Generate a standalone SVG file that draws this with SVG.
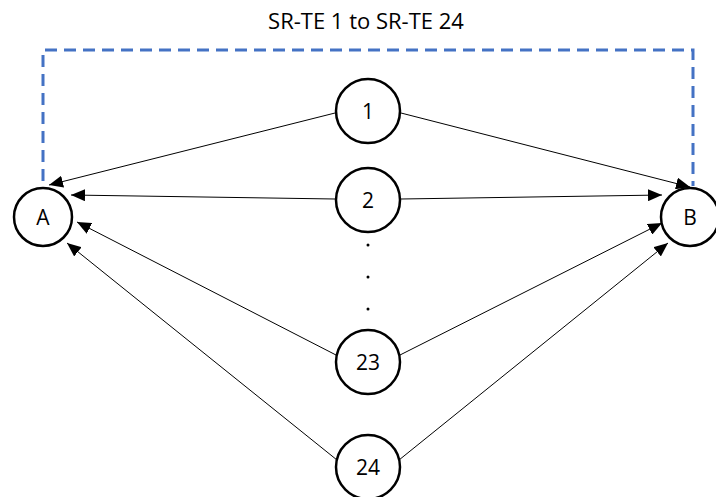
<svg xmlns="http://www.w3.org/2000/svg" width="716" height="497" viewBox="0 0 716 497">
<style>
.node{fill:#fff;stroke:#000;stroke-width:2.5}
.lbl{font-family:"Open Sans","Liberation Sans",sans-serif;font-size:21px;fill:#000;text-anchor:middle;dominant-baseline:central}
.edge{stroke:#000;stroke-width:1;fill:none;marker-end:url(#ah)}
.dash{stroke:#4472C4;stroke-width:3;fill:none;stroke-dasharray:12 7}
.dot{fill:#000}
</style>
<defs>
<marker id="ah" markerUnits="userSpaceOnUse" markerWidth="14" markerHeight="12" viewBox="0 0 14 12" refX="14" refY="6" orient="auto">
<path d="M0,0 L14,6 L0,12 Z" fill="#000"/>
</marker>
</defs>
<rect width="716" height="497" fill="#fff"/>
<text class="lbl" x="366" y="20" style="font-size:22px">SR-TE 1 to SR-TE 24</text>
<g id="connectors">
<path class="dash" d="M43,181 V50 H693 V186"/>
<line class="edge" x1="335" y1="113" x2="49" y2="185"/>
<line class="edge" x1="401" y1="113" x2="690" y2="187"/>
<line class="edge" x1="335" y1="199" x2="71" y2="195"/>
<line class="edge" x1="401" y1="199" x2="662" y2="195"/>
<line class="edge" x1="336" y1="355" x2="77" y2="222"/>
<line class="edge" x1="400" y1="355" x2="662" y2="223"/>
<line class="edge" x1="337" y1="460" x2="67" y2="243"/>
<line class="edge" x1="399" y1="460" x2="668" y2="243"/>
</g>
<g id="A"><circle class="node" cx="43" cy="217" r="29"/><text class="lbl" x="43" y="217">A</text></g>
<g id="B"><circle class="node" cx="690" cy="217" r="29"/><text class="lbl" x="690" y="217">B</text></g>
<g id="n1"><circle class="node" cx="368" cy="111" r="32"/><text class="lbl" x="368" y="111">1</text></g>
<g id="n2"><circle class="node" cx="368" cy="200" r="32"/><text class="lbl" x="368" y="200">2</text></g>
<g id="dots"><circle class="dot" cx="368" cy="245" r="1.5"/><circle class="dot" cx="368" cy="277" r="1.5"/><circle class="dot" cx="368" cy="309" r="1.5"/></g>
<g id="n23"><circle class="node" cx="368" cy="362" r="32"/><text class="lbl" x="368" y="362">23</text></g>
<g id="n24"><circle class="node" cx="368" cy="467" r="32"/><text class="lbl" x="368" y="467">24</text></g>
</svg>
